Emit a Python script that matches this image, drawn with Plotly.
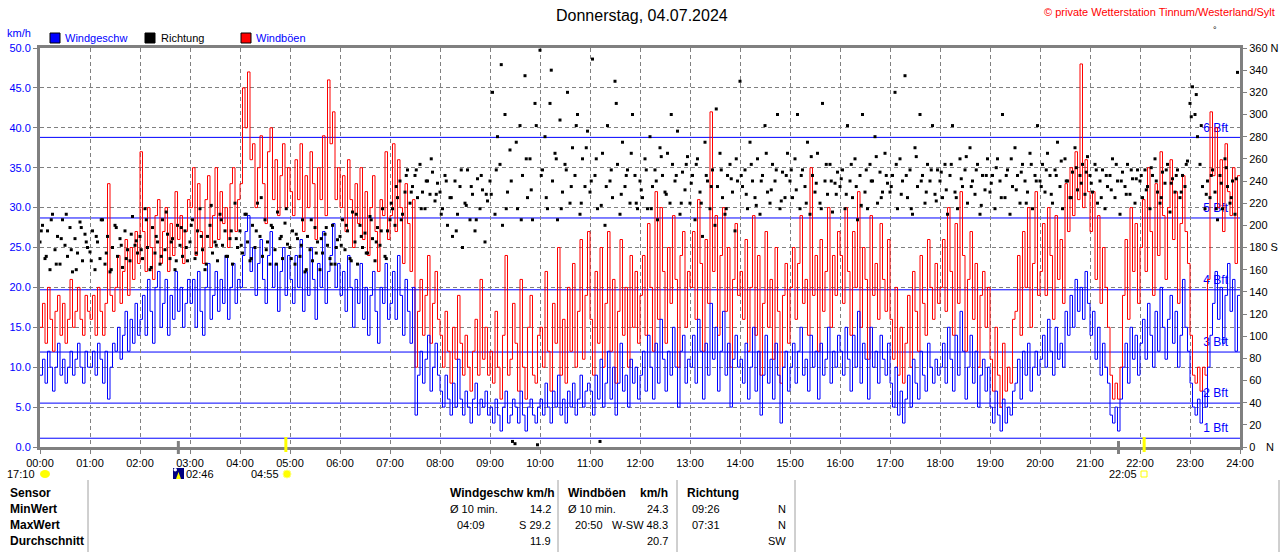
import plotly.graph_objects as go

STEP_MIN = 3  # minutes between readings

# Windgeschwindigkeit km/h (20 values per hour)
wind_speed = [
 9,11,8,12,10,7,10,13,9,11,8,10,12,9,11,13,10,8,12,10,
 10,12,9,13,11,8,12,6,10,13,12,15,11,14,17,12,16,13,18,14,
 16,19,14,21,17,13,20,22,15,18,21,14,19,16,22,17,20,15,18,21,
 18,21,15,22,17,14,20,23,16,19,22,17,21,18,24,16,20,23,18,21,
 20,24,27,29,22,25,19,23,26,21,18,24,27,20,23,17,22,25,19,24,
 21,18,24,20,26,17,22,19,25,21,16,23,20,27,18,22,24,28,20,23,
 19,22,17,24,20,15,21,18,23,16,20,14,19,22,17,13,20,18,23,16,
 18,22,16,24,19,14,21,17,13,20,4,9,12,8,11,14,7,10,13,9,
 7,5,9,6,4,8,5,11,6,4,7,5,3,6,8,4,6,5,7,4,
 5,3,6,4,2,5,7,3,4,6,5,3,7,4,2,5,6,4,3,5,
 6,4,8,5,3,7,5,9,4,6,3,7,5,8,4,6,9,5,7,8,
 7,4,9,6,11,5,8,12,6,10,4,8,13,7,9,5,11,8,10,6,
 9,12,7,14,10,6,13,8,16,11,7,12,9,15,10,5,12,14,8,11,
 10,14,8,16,12,6,13,9,18,11,15,7,12,17,9,13,5,11,14,10,
 11,8,13,6,10,15,7,12,4,9,14,8,11,6,13,9,3,10,12,7,
 10,13,8,12,15,9,11,7,14,10,12,6,13,9,11,15,8,12,10,14,
 12,9,15,11,7,14,10,17,8,13,11,6,15,10,12,8,14,11,9,13,
 8,5,10,4,7,3,6,9,5,11,8,6,12,9,7,13,10,8,11,9,
 10,13,8,15,11,7,14,9,17,12,6,10,14,8,12,5,9,11,7,10,
 5,3,7,4,2,6,3,5,4,7,8,11,6,12,9,13,7,10,12,9,
 11,14,10,16,12,9,15,11,13,10,17,14,19,15,21,17,20,16,22,18,
 14,17,11,15,9,13,10,8,4,3,5,2,6,10,13,8,15,11,14,9,
 13,16,11,18,14,10,17,12,20,15,11,16,19,13,17,10,14,21,15,12,
 8,5,4,6,3,7,5,10,14,18,22,16,20,13,19,23,17,21,12,19,
]

# Windböen km/h
gusts = [
 15,18,13,20,16,12,17,19,14,18,13,16,21,15,17,20,16,14,19,17,
 16,19,14,20,17,14,18,33,19,17,20,24,18,22,26,19,25,21,27,23,
 37,27,22,30,25,21,29,31,23,27,30,22,28,24,32,26,29,23,27,31,
 30,35,24,33,27,23,31,34,25,29,35,26,32,28,30,25,33,35,27,31,
 33,45,40,47,36,38,30,35,39,33,28,37,40,31,36,29,34,38,30,35,
 32,29,36,31,38,27,34,30,37,33,26,35,31,39,29,46,38,42,31,35,
 30,34,27,36,31,25,33,28,35,26,32,24,30,34,27,22,31,29,37,26,
 29,38,27,36,30,23,33,28,22,31,10,17,21,14,19,24,13,18,22,16,
 14,10,17,12,8,15,11,19,13,9,14,10,7,12,16,9,21,11,15,9,
 12,8,17,10,6,14,24,9,11,18,13,7,21,10,6,15,19,9,8,14,
 15,10,22,12,7,18,13,25,9,16,8,20,12,23,10,17,26,11,19,27,
 16,9,22,13,25,10,18,27,12,21,8,17,26,14,20,10,24,15,22,13,
 19,24,14,28,20,12,32,16,30,22,13,25,18,29,21,10,24,27,15,22,
 20,27,16,31,23,12,26,18,42,22,29,14,24,30,17,25,10,21,28,19,
 22,16,26,12,20,29,14,24,9,18,27,15,21,11,25,17,8,19,23,13,
 20,25,16,23,29,18,21,14,35,19,24,12,26,17,22,30,15,24,19,27,
 24,18,30,22,14,27,20,32,15,25,21,11,29,19,23,16,28,21,17,26,
 16,11,20,9,15,8,13,19,10,22,17,12,24,18,14,26,20,16,23,18,
 20,26,17,30,22,14,28,18,32,24,12,21,27,16,23,10,19,22,15,20,
 11,7,15,9,5,13,7,10,8,16,17,24,14,27,20,30,15,23,32,19,
 22,28,19,30,24,16,29,21,26,18,33,27,35,29,37,31,48,30,36,32,
 27,32,21,29,18,25,20,15,9,6,8,6,10,19,26,16,30,22,28,18,
 25,31,22,35,27,19,33,24,37,29,21,30,36,26,32,18,28,34,27,23,
 14,9,8,10,7,10,9,21,42,34,40,30,36,27,38,32,29,35,23,34,
]

# Richtung Grad (every 3 min)
direction = [
 185,200,170,195,160,210,178,190,165,205,182,172,198,158,188,175,203,168,192,180,
 176,195,160,185,170,205,165,190,158,180,200,172,188,162,195,178,168,208,182,175,
 190,170,215,180,160,198,175,185,165,205,178,192,170,188,160,200,182,172,195,168,
 185,205,170,195,215,178,160,190,200,175,185,168,210,182,195,172,188,165,220,180,
 195,175,210,185,168,200,180,220,190,172,205,185,165,198,178,212,188,170,202,183,
 180,195,165,188,172,205,158,190,178,168,198,185,160,175,192,182,170,200,165,187,
 190,205,178,195,170,212,185,165,200,180,193,175,208,188,168,198,182,215,172,195,
 205,215,200,225,240,210,230,250,220,235,245,225,255,230,215,240,228,248,222,238,
 230,215,245,200,225,190,240,210,235,180,220,250,205,228,195,242,215,232,185,222,
 240,320,210,280,255,200,300,230,268,5,3,215,290,245,335,225,260,205,310,2,
 358,250,280,215,310,240,265,205,295,230,255,320,220,270,245,300,210,260,235,285,
 230,350,245,215,5,265,200,290,240,225,330,255,210,275,235,250,220,300,245,215,
 240,225,260,215,280,235,250,205,270,245,230,265,220,255,240,285,210,248,232,262,
 220,245,205,260,230,190,275,240,215,250,200,235,265,225,210,245,255,230,195,240,
 330,235,250,215,275,240,225,260,210,245,290,230,220,255,240,300,215,248,225,265,
 240,225,260,300,215,250,235,275,210,245,230,265,220,310,240,228,255,212,238,248,
 235,250,215,290,240,225,260,205,245,300,230,215,255,240,280,220,248,230,265,238,
 230,245,320,215,260,240,335,225,250,210,270,235,300,245,220,255,240,290,228,250,
 240,225,255,210,245,290,230,215,260,235,250,220,270,240,228,255,210,245,232,260,
 230,245,215,260,240,300,225,250,210,235,270,245,220,255,240,230,265,215,245,290,
 240,255,230,265,245,220,250,275,235,215,260,240,225,248,270,232,245,255,228,262,
 245,230,255,220,240,250,215,235,245,260,225,240,210,248,235,255,228,242,220,250,
 240,225,250,235,215,245,260,230,220,248,238,255,212,242,230,250,225,245,235,258,
 310,325,300,280,255,235,215,240,225,250,230,205,245,215,260,235,220,240,210,338,
]

# further direction readings (every 6 min, offset 1.5 min)
direction_extra = [
 195,172,205,165,188,210,178,160,198,185,
 168,190,205,175,160,198,182,170,192,186,
 178,205,162,190,172,212,185,168,198,180,
 200,175,190,165,218,182,205,172,195,188,
 182,210,170,195,225,178,200,165,190,215,
 170,192,182,160,205,175,188,198,165,180,
 182,200,168,210,190,175,205,185,195,170,
 220,235,205,245,230,250,215,240,260,228,
 210,240,225,195,250,218,235,205,245,228,
 228,250,345,215,240,275,205,260,232,290,
 245,225,340,260,215,250,235,290,220,270,
 240,260,218,235,250,310,228,245,265,220,
 232,250,215,240,262,228,300,245,220,255,
 238,255,220,245,235,305,250,215,242,260,
 245,228,255,218,240,265,232,250,222,245,
 250,232,245,220,262,238,215,255,240,228,
 242,228,255,235,218,250,240,262,225,245,
 235,255,228,245,215,262,240,230,250,222,
 248,232,255,225,242,262,235,250,218,245,
 238,252,225,245,260,232,248,220,255,240,
 235,250,228,245,258,240,225,252,238,248,
 238,250,225,245,232,255,240,228,250,242,
 245,232,252,240,225,250,238,245,230,255,
 298,318,290,228,245,215,238,252,225,242,
]

hour_ticks = list(range(25))
hour_labels = [f"{h:02d}:00" for h in hour_ticks]
dir_ticks = list(range(0, 361, 20))
dir_labels = ["180 S" if d == 180 else "360 N" if d == 360 else str(d) for d in dir_ticks]
bft_levels = [1.1, 5.5, 11.9, 19.7, 28.7, 38.8]
bft_labels = ["1 Bft", "2 Bft", "3 Bft", "4 Bft", "5 Bft", "6 Bft"]

W, H = 1280, 552
ML, MR, MT, MB = 40, 40, 48, 105
def px(x): return (x - ML) / (W - ML - MR)
def py(y): return (H - MB - y) / (H - MT - MB)

times = [i * STEP_MIN / 60 for i in range(len(wind_speed))]
times_extra = [(i * 6 + 1.5) / 60 for i in range(len(direction_extra))]
FONT = "Liberation Sans, Arial, sans-serif"
GREY = "#808080"

fig = go.Figure()
fig.add_trace(go.Scatter(x=[23.76] * len(bft_levels), y=[v + 1.1 for v in bft_levels], mode="text",
                         text=bft_labels, textposition="middle left",
                         textfont=dict(color="#0000ff", size=12, family=FONT), hoverinfo="skip"))
fig.add_trace(go.Scatter(x=times + [24], y=gusts + [gusts[-1]], mode="lines", line=dict(color="#ff0000", width=1, shape="hv"), name="Windböen"))
fig.add_trace(go.Scatter(x=times + [24], y=wind_speed + [wind_speed[-1]], mode="lines", line=dict(color="#0000ff", width=1, shape="hv"), name="Windgeschw"))
fig.add_trace(go.Scatter(x=times + times_extra, y=direction + direction_extra, mode="markers", yaxis="y2",
                         marker=dict(symbol="square", size=3, color="#000000", line=dict(width=0)), name="Richtung"))

shapes = []
for v in bft_levels:
    shapes.append(dict(type="line", xref="paper", yref="y", x0=0, x1=1, y0=v, y1=v,
                       line=dict(color="#0000ff", width=1), layer="below"))
# axis event markers
for hx, col, y0, y1 in [(2.767, GREY, 441, 454), (4.917, "#ffff00", 437, 452),
                        (21.57, GREY, 441, 454), (22.083, "#ffff00", 437, 452)]:
    shapes.append(dict(type="line", xref="x", yref="paper", x0=hx, x1=hx, y0=py(y0), y1=py(y1),
                       line=dict(color=col, width=3)))
# table separators
for xv in [88, 558, 677, 795, 1279]:
    shapes.append(dict(type="line", xref="paper", yref="paper", x0=px(xv), x1=px(xv), y0=py(480), y1=py(552),
                       line=dict(color="#a0a0a0", width=1)))
# legend squares
for x0, col in [(50, "#0000ff"), (145, "#000000"), (241, "#ff0000")]:
    shapes.append(dict(type="rect", xref="paper", yref="paper", x0=px(x0), x1=px(x0 + 10), y0=py(43), y1=py(33),
                       fillcolor=col, line=dict(color="#000000", width=1)))
# icons
shapes.append(dict(type="rect", xref="paper", yref="paper", x0=px(173), x1=px(184), y0=py(479), y1=py(468),
                   fillcolor="#000080", line=dict(width=0)))
tri = [(176, 479), (181, 479), (178.5, 472)]
shapes.append(dict(type="path", xref="paper", yref="paper",
                   path="M " + " L ".join(f"{px(a)},{py(b)}" for a, b in tri) + " Z",
                   fillcolor="#ffff00", line=dict(width=0)))
shapes.append(dict(type="circle", xref="paper", yref="paper", x0=px(173.5), x1=px(177), y0=py(471.5), y1=py(468),
                   fillcolor="#ffffff", line=dict(width=0)))
shapes.append(dict(type="circle", xref="paper", yref="paper", x0=px(40), x1=px(50), y0=py(478), y1=py(470),
                   fillcolor="#ffff00", line=dict(width=0)))
shapes.append(dict(type="circle", xref="paper", yref="paper", x0=px(283), x1=px(291), y0=py(478), y1=py(470),
                   fillcolor="#ffff00", line=dict(color="#ffff80", width=1)))
shapes.append(dict(type="rect", xref="paper", yref="paper", x0=px(1141), x1=px(1147), y0=py(477), y1=py(471),
                   fillcolor="rgba(0,0,0,0)", line=dict(color="#ffff00", width=1)))

ann = []
def t(x, y, s, anchor="left", size=12, color="#000000", bold=False):
    ann.append(dict(xref="paper", yref="paper", x=px(x), y=py(y), text=f"<b>{s}</b>" if bold else s,
                    xanchor=anchor, yanchor="middle", showarrow=False,
                    font=dict(family=FONT, size=size, color=color)))

t(642, 15, "Donnerstag, 04.07.2024", "center", 16)
t(1277, 12, "© private Wetterstation Tinnum/Westerland/Sylt", "right", 11, "#ff0000")
t(1215, 30, "°", "center", 9)
t(5, 33, "km/h", "left", 11, "#0000ff")
t(63, 38, "Windgeschw", "left", 11, "#0000ff")
t(159, 38, "Richtung", "left", 11, "#000000")
t(254, 38, "Windböen", "left", 11, "#0000ff")
t(1264, 447, "N", "left", 11)
t(37, 474, "17:10", "right", 11)
t(184, 474, "02:46", "left", 11)
t(281, 474, "04:55", "right", 11)
t(1139, 474, "22:05", "right", 11)
t(8, 493, "Sensor", bold=True)
t(8, 509, "MinWert", bold=True)
t(8, 525, "MaxWert", bold=True)
t(8, 541, "Durchschnitt", bold=True)
t(448, 493, "Windgeschw km/h", bold=True)
t(448, 509, "Ø 10 min.", size=11)
t(553, 509, "14.2", "right", 11)
t(455, 525, "04:09", size=11)
t(553, 525, "S 29.2", "right", 11)
t(553, 541, "11.9", "right", 11)
t(566, 493, "Windböen", bold=True)
t(670, 493, "km/h", "right", bold=True)
t(566, 509, "Ø 10 min.", size=11)
t(670, 509, "24.3", "right", 11)
t(573, 525, "20:50", size=11)
t(670, 525, "W-SW 48.3", "right", 11)
t(670, 541, "20.7", "right", 11)
t(685, 493, "Richtung", bold=True)
t(690, 509, "09:26", size=11)
t(788, 509, "N", "right", 11)
t(690, 525, "07:31", size=11)
t(788, 525, "N", "right", 11)
t(788, 541, "SW", "right", 11)

fig.update_layout(
    width=W, height=H, margin=dict(l=ML, r=MR, t=MT, b=MB, pad=0, autoexpand=False),
    paper_bgcolor="#ffffff", plot_bgcolor="#ffffff", showlegend=False,
    font=dict(family=FONT, size=12, color="#000000"),
    shapes=shapes, annotations=ann,
    xaxis=dict(range=[0, 24], tickvals=hour_ticks, ticktext=hour_labels, showgrid=True, automargin=False,
               gridcolor=GREY, griddash="4px,3px", gridwidth=1, zeroline=False,
               showline=True, linecolor=GREY, linewidth=3, mirror=True,
               ticks="outside", ticklen=4, tickcolor=GREY, tickfont=dict(size=11, color="#000000")),
    yaxis=dict(range=[0, 50], dtick=5, tickformat=".1f", showgrid=True, gridcolor=GREY, automargin=False,
               griddash="4px,3px", gridwidth=1, zeroline=False, showline=True, linecolor=GREY,
               linewidth=3, ticks="outside", ticklen=4, tickcolor=GREY,
               tickfont=dict(size=11, color="#0000ff")),
    yaxis2=dict(range=[0, 360], overlaying="y", side="right", tickvals=dir_ticks, ticktext=dir_labels,
                showgrid=False, zeroline=False, showline=True, linecolor=GREY, linewidth=3, automargin=False,
                ticks="outside", ticklen=4, tickcolor=GREY, tickfont=dict(size=11, color="#000000")),
)

fig.write_html("out.html", config={"displayModeBar": False},
               post_script="document.body.style.margin='0px';")
